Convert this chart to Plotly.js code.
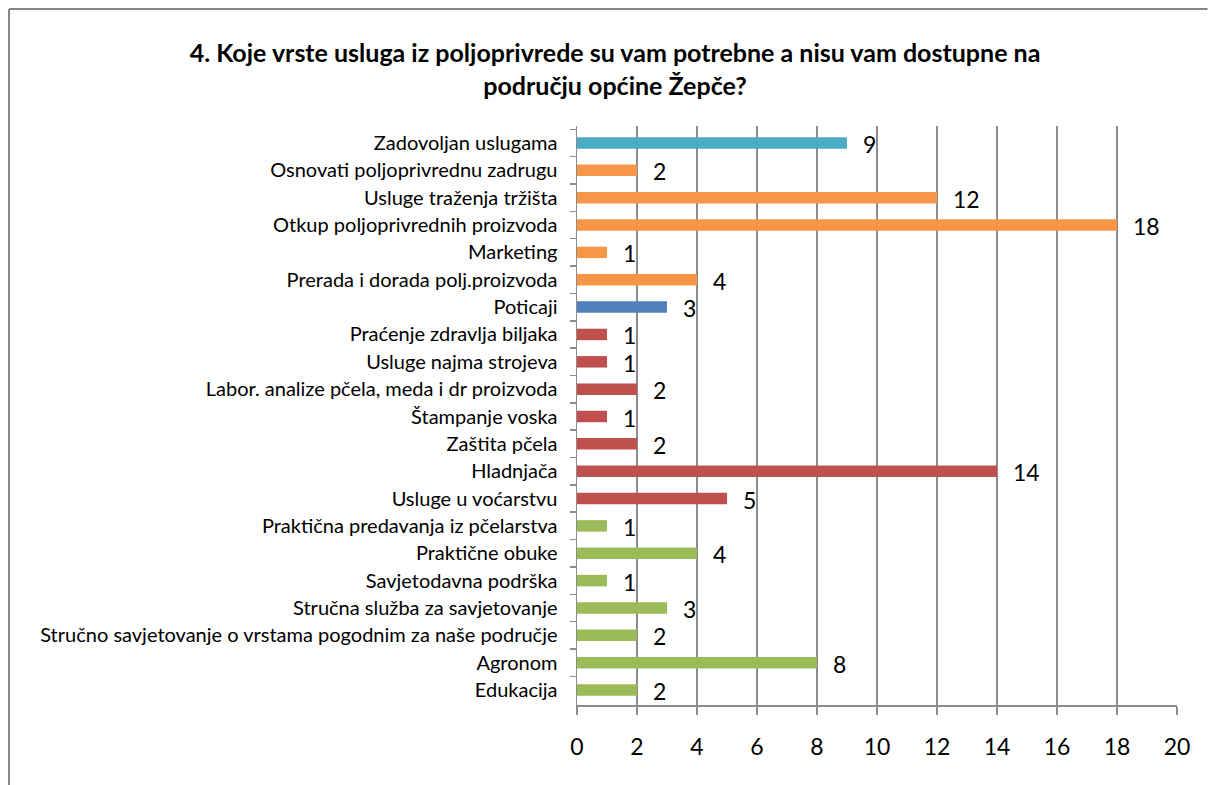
<!DOCTYPE html>
<html><head><meta charset="utf-8">
<script src="https://cdn.plot.ly/plotly-3.0.1.min.js"></script>
<style>html,body{margin:0;padding:0;background:#fff;overflow:hidden;}#chart{width:1208px;height:785px;}</style>
</head><body><div id="chart"></div>
<script>
const categories = [
  "Zadovoljan uslugama",
  "Osnovati poljoprivrednu zadrugu",
  "Usluge traženja tržišta",
  "Otkup poljoprivrednih proizvoda",
  "Marketing",
  "Prerada i dorada polj.proizvoda",
  "Poticaji",
  "Praćenje zdravlja biljaka",
  "Usluge najma strojeva",
  "Labor. analize pčela, meda i dr proizvoda",
  "Štampanje voska",
  "Zaštita pčela",
  "Hladnjača",
  "Usluge u voćarstvu",
  "Praktična predavanja iz pčelarstva",
  "Praktične obuke",
  "Savjetodavna podrška",
  "Stručna služba za savjetovanje",
  "Stručno savjetovanje o vrstama pogodnim za naše područje",
  "Agronom",
  "Edukacija"
];
const values = [9, 2, 12, 18, 1, 4, 3, 1, 1, 2, 1, 2, 14, 5, 1, 4, 1, 3, 2, 8, 2];
const groups = ["teal","orange","orange","orange","orange","orange","blue","red","red","red","red","red","red","red","green","green","green","green","green","green","green"];
const xTicks = [0, 2, 4, 6, 8, 10, 12, 14, 16, 18, 20];

const palette = {teal:"#4BACC6", orange:"#F79646", blue:"#4F81BD", red:"#C0504D", green:"#9BBB59"};
const chartFont = "Lato, 'Open Sans', sans-serif";

const trace = {
  type: "bar", orientation: "h",
  x: values, y: categories,
  marker: {color: groups.map(g => palette[g])},
  width: 0.42, hoverinfo: "x+y"
};

const annotations = values.map((v, i) => ({
  x: v, y: categories[i], xref: "x", yref: "y",
  text: String(v), showarrow: false, xanchor: "left", xshift: 14, yshift: -1,
  font: {family: chartFont, size: 23, color: "#000"}
}));

const plotW = 600, plotH = 579, mLeft = 577, mTop = 126;
const bx = (9 - mLeft) / plotW;
const bxRight = (1207.5 - mLeft) / plotW;
const byTop = 1 + (mTop - 9) / plotH;
const layout = {
  width: 1208, height: 785,
  margin: {l: mLeft, r: 31, t: mTop, b: 80},
  paper_bgcolor: "#fff", plot_bgcolor: "#fff",
  showlegend: false,
  title: {
    text: "<b>4. Koje vrste usluga iz poljoprivrede su vam potrebne a nisu vam dostupne na<br>području općine Žepče?</b>",
    font: {family: chartFont, size: 25, color: "#000"},
    x: 615/1208, xref: "container", xanchor: "center",
    y: 1 - 62/785, yref: "container", yanchor: "top"
  },
  xaxis: {
    range: [0, 20], tickvals: xTicks, ticktext: xTicks.map(String),
    showgrid: true, gridcolor: "#8c8c8c", gridwidth: 1.5,
    showline: true, linecolor: "#8c8c8c", linewidth: 1.5,
    ticks: "outside", ticklen: 8, tickcolor: "#8c8c8c", tickwidth: 1.5,
    ticklabelstandoff: 13,
    tickfont: {family: chartFont, size: 23, color: "#000"},
    zeroline: false, fixedrange: true
  },
  yaxis: {
    type: "category", autorange: "reversed",
    showline: true, linecolor: "#8c8c8c", linewidth: 1.5,
    ticks: "outside", tickson: "boundaries", ticklen: 6, tickcolor: "#8c8c8c", tickwidth: 1.5,
    ticklabelstandoff: 14,
    tickfont: {family: chartFont, size: 20, color: "#000"},
    showgrid: false, zeroline: false, fixedrange: true
  },
  annotations: annotations,
  shapes: [
    {type: "line", xref: "paper", yref: "paper", x0: bx, x1: bx, y0: -0.5, y1: byTop,
     line: {color: "#868686", width: 2}, layer: "below"},
    {type: "line", xref: "paper", yref: "paper", x0: bx, x1: bxRight, y0: byTop, y1: byTop,
     line: {color: "#868686", width: 2}, layer: "below"}
  ]
};

Plotly.newPlot("chart", [trace], layout, {displayModeBar: false, staticPlot: true});
</script></body></html>
